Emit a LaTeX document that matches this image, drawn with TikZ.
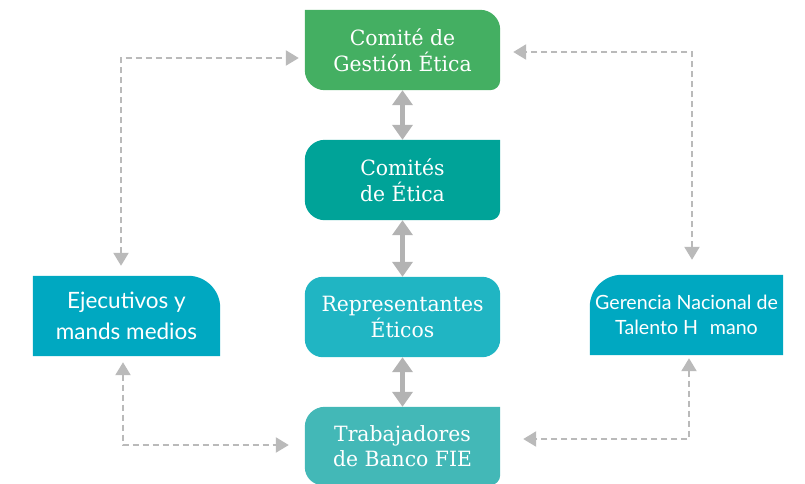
\documentclass[tikz,border=0pt]{standalone}
\usepackage{fontspec}
\usetikzlibrary{arrows.meta,backgrounds}
\newfontfamily\slabfont{DejaVu Serif}[FakeStretch=0.97]
\newfontfamily\gillfont{Lato}
\definecolor{cgreen}{HTML}{44AF62}
\definecolor{cteal}{HTML}{00A398}
\definecolor{ccyan}{HTML}{20B5C3}
\definecolor{cturq}{HTML}{43B8B7}
\definecolor{cside}{HTML}{00A8C1}
\definecolor{cgray}{HTML}{B3B3B3}
\definecolor{cdash}{HTML}{BABABA}
% \shapebox{node}{tl}{tr}{br}{bl}{colour}
\newcommand\shapebox[6]{%
  \fill[#6] ([xshift=#2]#1.north west) -- ([xshift=-#3]#1.north east)
    arc[start angle=90,end angle=0,radius=#3] -- ([yshift=#4]#1.south east)
    arc[start angle=0,end angle=-90,radius=#4] -- ([xshift=#5]#1.south west)
    arc[start angle=270,end angle=180,radius=#5] -- ([yshift=-#2]#1.north west)
    arc[start angle=180,end angle=90,radius=#2] -- cycle;}
\tikzset{
  centerbox/.style={minimum width=195pt,minimum height=80pt,inner sep=0pt,
    align=center,text=white,font=\slabfont\fontsize{21}{25.5}\selectfont},
  sidebox/.style={minimum width=187pt,minimum height=80pt,inner sep=0pt,
    align=center,text=white},
  solidconn/.style={draw=cgray,line width=4.5pt,
    {Triangle[length=15pt,width=20pt]}-{Triangle[length=15pt,width=20pt]}},
  dashconn/.style={draw=cdash,line width=2.2pt,dash pattern=on 6pt off 4pt,
    {Triangle[length=13pt,width=15pt]}-{Triangle[length=13pt,width=15pt]}}
}
\begin{document}
\begin{tikzpicture}[x=1pt,y=-1pt]
\useasboundingbox (0,0) rectangle (805,483);
\node[centerbox] (b1) at (402.5,50) {Comité de\\Gestión Ética};
\node[centerbox] (b2) at (402.5,180) {Comités\\de Ética};
\node[centerbox] (b3) at (402.5,317) {Representantes\\Éticos};
\node[centerbox,minimum height=78pt] (b4) at (402.5,446) {Trabajadores\\de Banco FIE};
\node[sidebox,font=\gillfont\fontsize{22.5}{31}\selectfont] (ejec) at (126.5,316) {Ejecutivos y\\mands medios};
\node[sidebox,minimum width=193pt,font=\gillfont\fontsize{19.6}{25}\selectfont] (ger) at (686.5,315) {Gerencia Nacional de\\Talento H\hspace{0.6em}mano};
\begin{scope}[on background layer]
\shapebox{b1}{0.01pt}{20pt}{10pt}{20pt}{cgreen}
\shapebox{b2}{20pt}{0.01pt}{10pt}{20pt}{cteal}
\shapebox{b3}{18pt}{18pt}{18pt}{18pt}{ccyan}
\shapebox{b4}{20pt}{0.01pt}{10pt}{18pt}{cturq}
\shapebox{ejec}{0.01pt}{32pt}{0.01pt}{0.01pt}{cside}
\shapebox{ger}{32pt}{0.01pt}{0.01pt}{0.01pt}{cside}
\end{scope}
\draw[solidconn] (b1.south) -- (b2.north);
\draw[solidconn] (b2.south) -- (b3.north);
\draw[solidconn] (b3.south) -- (b4.north);
\draw[dashconn] ([xshift=-5.5pt,yshift=10pt]ejec.north) |- ([xshift=-6pt,yshift=-8pt]b1.west);
\draw[dashconn] ([xshift=5.5pt,yshift=15pt]ger.north) |- ([xshift=13pt,yshift=-2pt]b1.east);
\draw[dashconn] ([xshift=-3.5pt,yshift=-6pt]ejec.south) |- ([xshift=-16pt,yshift=1pt]b4.west);
\draw[dashconn] ([xshift=2.5pt,yshift=-3pt]ger.south) |- ([xshift=23pt,yshift=7pt]b4.east);
\end{tikzpicture}
\end{document}
